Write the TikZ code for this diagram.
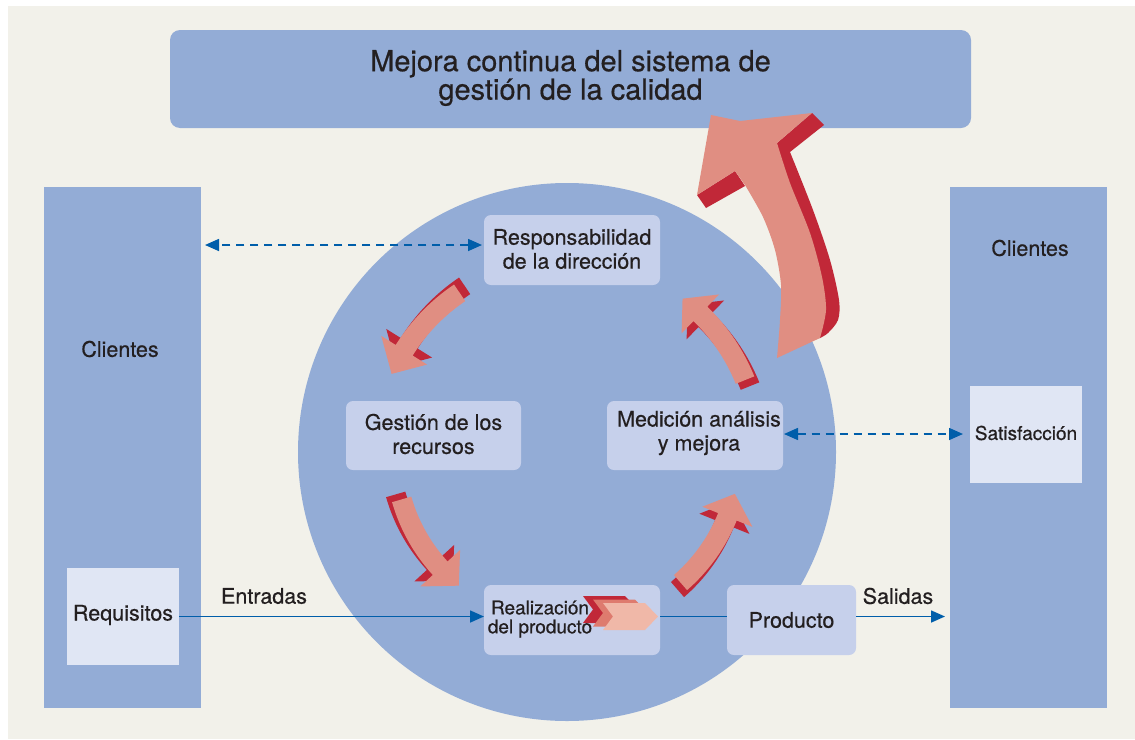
\documentclass[tikz,border=0pt]{standalone}
\usepackage{fontspec}
\setmainfont{TeX Gyre Heros}[FakeBold=0.5]
\usetikzlibrary{arrows.meta}
\definecolor{bgc}{RGB}{242,241,234}
\definecolor{blueA}{RGB}{147,172,214}
\definecolor{blueL}{RGB}{198,208,235}
\definecolor{blueXL}{RGB}{224,230,244}
\definecolor{lineb}{RGB}{0,94,170}
\definecolor{pinkc}{RGB}{224,142,130}
\definecolor{dredc}{RGB}{193,40,56}
\definecolor{midc}{RGB}{222,123,110}
\definecolor{lightc}{RGB}{240,184,168}
\definecolor{txtc}{RGB}{35,31,32}
\newcommand\ringarrow[6]{%
  \begin{scope}[shift={(567,452)}]
    \fill[dredc,shift={(#5,#6)}] plot[domain=#2:#3,samples=20] (\x:#1+10) -- (#3:#1+27) -- (#4:#1) -- (#3:#1-27) -- plot[domain=#3:#2,samples=20] (\x:#1-10) -- cycle;
    \fill[pinkc] plot[domain=#2:#3,samples=20] (\x:#1+10) -- (#3:#1+27) -- (#4:#1) -- (#3:#1-27) -- plot[domain=#3:#2,samples=20] (\x:#1-10) -- cycle;
  \end{scope}}
\newcommand\chev[3]{%
  \fill[#3] (#1,#2) -- ++(42,0) -- ++(13,13.5) -- ++(-13,13.5) -- ++(-42,0) -- ++(10,-13.5) -- cycle;}
\begin{document}
\begin{tikzpicture}[x=1pt,y=-1pt,
  box/.style={inner sep=0pt,outer sep=0pt},
  txt/.style={inner sep=0pt,text=txtc,align=center,font=\fontsize{21.5}{24}\selectfont},
  smalltxt/.style={inner sep=0pt,text=txtc,align=center,font=\fontsize{19}{19}\selectfont},
  conn/.style={lineb,line width=1.6pt},
  tipx/.style={-{Triangle[length=14pt,width=12pt]}},
  dasharrow/.style={lineb,line width=1.6pt,dash pattern=on 8pt off 6pt,{Triangle[length=14pt,width=12pt]}-{Triangle[length=14pt,width=12pt]}}
]
\useasboundingbox (0,0) rectangle (1135,739);
\fill[white] (0,0) rectangle (1135,739);
\fill[bgc] (8,6) rectangle (1135,739);

% top box
\node[box,fill=blueA,rounded corners=10pt,minimum width=801pt,minimum height=98pt] (top) at (570.5,79) {};
\node[inner sep=0pt,text=txtc,align=center,font=\fontsize{29}{27}\selectfont] (toptxt) at (570.5,78) {Mejora continua del sistema de\\gestión de la calidad};

% columns
\node[box,fill=blueA,minimum width=157pt,minimum height=521pt] (lcol) at (122.5,447.5) {};
\node[box,fill=blueA,minimum width=157pt,minimum height=521pt] (rcol) at (1028.5,447.5) {};
\node[txt] (lcltxt) at (120,349) {Clientes};
\node[txt] (rcltxt) at (1030,248) {Clientes};
\node[box,fill=blueXL,minimum width=112pt,minimum height=97pt] (req) at (123,616.5) {};
\node[txt] (reqtxt) at (123,615) {Requisitos};
\node[box,fill=blueXL,minimum width=112pt,minimum height=97pt] (sat) at (1026,434.5) {};
\node[smalltxt] (sattxt) at (1026,433) {Satisfacción};

% circle
\node[circle,fill=blueA,minimum size=538pt,inner sep=0pt] (circ) at (567,452) {};

% inner boxes
\node[box,fill=blueL,rounded corners=7pt,minimum width=176pt,minimum height=70pt] (resp) at (572,250) {};
\node[txt] (resptxt) at (572,249) {Responsabilidad\\de la dirección};
\node[box,fill=blueL,rounded corners=7pt,minimum width=175pt,minimum height=69pt] (gest) at (433.5,435.5) {};
\node[txt] (gesttxt) at (433.5,434) {Gestión de los\\recursos};
\node[box,fill=blueL,rounded corners=7pt,minimum width=176pt,minimum height=69pt] (med) at (695,435.5) {};
\node[txt] (medtxt) at (699,433) {Medición análisis\\y mejora};
\node[box,fill=blueL,rounded corners=7pt,minimum width=176pt,minimum height=70pt] (real) at (572,620) {};
\node[box,fill=blueL,rounded corners=7pt,minimum width=129pt,minimum height=70pt] (prod) at (791.5,620) {};
\node[txt] (prodtxt) at (791.5,620) {Producto};

% connectors
\draw[conn,tipx] (req.east) -- (req.east -| real.west);
\draw[conn] (real.east |- req.east) -- (prod.west |- req.east);
\draw[conn,tipx,shorten >=5pt] (prod.east |- req.east) -- (rcol.west |- req.east);
\node[txt] (entr) at (264,596) {Entradas};
\node[txt] (sal) at (898,596) {Salidas};
\coordinate (r1) at ([yshift=5pt]resp.west);
\draw[dasharrow,shorten <=2pt,shorten >=4pt] (r1) -- (r1 -| lcol.east);
\coordinate (m1) at ([yshift=1.5pt]med.east);
\draw[dasharrow,shorten <=1pt,shorten >=7pt] (m1) -- (m1 -| sat.west);

% ring arrows
\ringarrow{192}{-124}{-148}{-156}{5}{-7}
\ringarrow{192}{-22}{-46}{-53}{5}{6}
\ringarrow{172}{-196}{-222.5}{-231}{-6}{-5}
\ringarrow{173}{-311}{-338}{-346}{-3}{7}

% big arrow
\fill[dredc] (777,143) -- (812,113) -- (824,125) -- plot[smooth] coordinates {(790,152) (813,210) (830,260) (839,300) (838,320) (828,333) (820,338)} -- (800,340) -- cycle;
\fill[dredc] (697,195) -- (706,208) -- (745,186) -- (735,171) -- cycle;
\fill[pinkc] (777,358) -- plot[smooth] coordinates {(820,338) (826,310) (822,277) (810,233) (790,183) (777,143)} -- (812,113) -- (740,121) -- (711,115) -- (697,195) -- (735,171) -- plot[smooth] coordinates {(745,185) (763,217) (775,250) (781,285) (780,320) (777,358)} -- cycle;

% chevrons
\chev{583}{596}{dredc}
\chev{593}{599.5}{midc}
\chev{603}{603}{lightc}
\node[smalltxt] (realtxt) at (540,619) {Realización\\del producto};
\end{tikzpicture}
\end{document}
